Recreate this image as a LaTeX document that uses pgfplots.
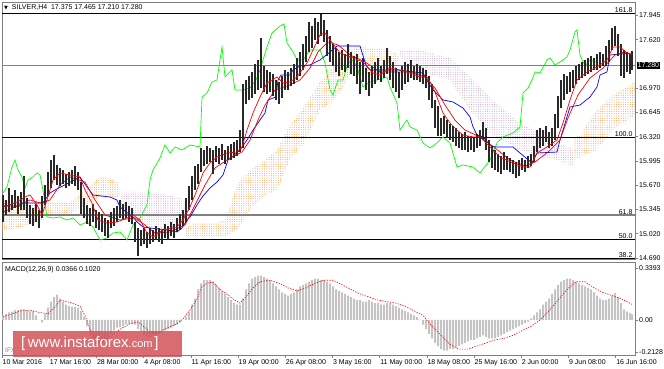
\documentclass[border=0pt]{standalone}
\usepackage{pgfplots}
\pgfplotsset{compat=1.18}
\usepackage{pgfplotstable}
\usepackage{fontspec}
\setmainfont{Liberation Sans}
\newfontfamily\dejavu{DejaVu Sans}
\usetikzlibrary{patterns.meta}
\definecolor{sandy}{RGB}{244,164,96}
\definecolor{thist}{RGB}{200,168,200}
\definecolor{limeg}{RGB}{0,255,0}
\definecolor{frm}{RGB}{128,128,128}
\definecolor{ifx}{RGB}{210,82,88}
\definecolor{silv}{RGB}{196,196,196}
\definecolor{barc}{RGB}{40,40,40}

\pgfplotstableread{
x l h
3 15.177 15.539
6 15.271 15.472
9 15.311 15.633
12 15.338 15.539
15 15.365 15.606
18 15.284 15.526
21 15.338 15.579
24 15.338 15.794
27 15.231 15.499
30 15.150 15.405
33 15.124 15.365
36 15.177 15.418
39 15.097 15.338
42 15.231 15.526
45 15.405 15.673
48 15.526 15.847
51 15.633 16.008
54 15.740 16.075
57 15.673 15.941
60 15.660 15.901
63 15.687 15.874
66 15.633 15.821
69 15.660 15.847
72 15.687 15.874
75 15.660 15.928
78 15.606 15.847
81 15.284 15.713
84 15.231 15.499
87 15.150 15.405
90 15.124 15.365
93 15.177 15.418
96 15.097 15.338
99 15.070 15.311
102 15.043 15.284
105 14.989 15.231
108 14.963 15.204
111 15.097 15.311
114 15.124 15.365
117 15.177 15.392
120 15.231 15.472
123 15.204 15.418
126 15.231 15.445
129 15.177 15.392
132 15.150 15.365
135 14.909 15.177
138 14.721 15.097
141 14.855 15.070
144 14.882 15.097
147 14.829 15.043
150 14.882 15.097
153 14.909 15.070
156 14.936 15.124
159 14.909 15.097
162 14.882 15.070
165 14.963 15.150
168 14.936 15.124
171 14.989 15.177
174 14.963 15.150
177 15.043 15.231
180 15.070 15.284
183 15.124 15.338
186 15.177 15.499
189 15.338 15.660
192 15.472 15.794
195 15.606 15.928
198 15.687 15.955
201 15.847 16.169
204 15.928 16.142
207 15.955 16.196
210 15.981 16.169
213 15.821 16.142
216 15.981 16.196
219 15.955 16.169
222 16.008 16.223
225 15.955 16.142
228 16.008 16.196
231 16.008 16.223
234 16.035 16.250
237 16.062 16.276
240 16.115 16.410
243 16.169 17.027
246 16.759 17.081
249 16.813 17.134
252 16.839 17.188
255 16.893 17.295
258 16.947 17.349
261 16.973 17.644
264 16.920 17.268
267 16.893 17.215
270 16.920 17.188
273 16.866 17.161
276 16.813 17.081
279 16.759 17.054
282 16.839 17.134
285 16.947 17.215
288 16.947 17.188
291 17.000 17.241
294 17.027 17.295
297 17.081 17.376
300 17.134 17.456
303 17.215 17.563
306 17.322 17.670
309 17.456 17.858
312 17.510 17.804
315 17.617 17.912
318 17.563 17.858
321 17.670 17.965
324 17.590 17.885
327 17.402 17.751
330 17.322 17.670
333 17.268 17.563
336 17.188 17.510
339 17.134 17.456
342 17.215 17.483
345 17.188 17.429
348 17.241 17.563
351 17.161 17.456
354 17.134 17.402
357 17.027 17.429
360 16.893 17.322
363 17.054 17.376
366 16.947 17.241
369 16.866 17.188
372 16.973 17.268
375 17.027 17.322
378 17.081 17.376
381 17.054 17.268
384 17.107 17.349
387 17.161 17.510
390 17.081 17.402
393 16.973 17.322
396 16.920 17.241
399 16.839 17.188
402 16.947 17.268
405 17.027 17.322
408 17.054 17.295
411 17.107 17.349
414 17.081 17.268
417 17.081 17.295
420 17.054 17.268
423 17.027 17.241
426 16.973 17.215
429 16.813 17.134
432 16.705 17.027
435 16.437 16.813
438 16.330 16.732
441 16.330 16.571
444 16.357 16.598
447 16.303 16.544
450 16.276 16.491
453 16.250 16.464
456 16.196 16.437
459 16.169 16.384
462 16.142 16.357
465 16.142 16.384
468 16.115 16.330
471 16.142 16.330
474 16.115 16.303
477 16.169 16.357
480 16.196 16.410
483 16.276 16.518
486 16.142 16.437
489 15.981 16.276
492 15.901 16.196
495 15.874 16.142
498 15.847 16.089
501 15.821 16.062
504 15.874 16.115
507 15.874 16.062
510 15.847 16.035
513 15.821 16.008
516 15.767 15.981
519 15.794 16.008
522 15.874 16.035
525 15.847 16.008
528 15.901 16.062
531 15.928 16.089
534 15.981 16.196
537 16.115 16.410
540 16.169 16.437
543 16.196 16.410
546 16.250 16.464
549 16.169 16.384
552 16.196 16.437
555 16.276 16.625
558 16.437 16.866
561 16.705 17.081
564 16.813 17.161
567 16.893 17.134
570 16.920 17.188
573 16.973 17.215
576 17.027 17.268
579 17.081 17.295
582 17.107 17.322
585 17.134 17.349
588 17.161 17.376
591 17.188 17.402
594 17.215 17.376
597 17.215 17.429
600 17.241 17.456
603 17.268 17.429
606 17.268 17.536
609 17.322 17.617
612 17.483 17.778
615 17.536 17.804
618 17.402 17.697
621 17.134 17.563
624 17.107 17.483
627 17.188 17.456
630 17.161 17.429
632 17.210 17.465
}\bars

\pgfplotsset{mt/.style={
  scale only axis, width=633pt, xmin=2, xmax=635,
  axis line style={frm, line width=0.7pt},
  tick style={frm, line width=0.5pt},
  tick align=outside, major tick length=3pt,
  ytick pos=right, yticklabel pos=right,
  yticklabel style={font=\fontsize{7}{8}\selectfont, anchor=west, inner sep=1pt},
}}
\tikzset{kumo/.style={pattern={Dots[distance=2.3pt,radius=0.55pt]}, pattern color=#1, draw=none}}

\begin{document}
\begin{tikzpicture}
\path[use as bounding box] (0,0) rectangle (664pt,369pt);

% ---------- main price panel ----------
\begin{axis}[mt, at={(2pt,110pt)}, anchor=south west, height=257pt,
  ymin=14.681, ymax=18.126, xtick=\empty,
  ytick={14.690,15.020,15.345,15.670,15.995,16.320,16.645,16.970,17.620,17.945},
  yticklabels={14.690,15.020,15.345,15.670,15.995,16.320,16.645,16.970,17.620,17.945}]

% Ichimoku cloud (Senkou span A / B), one polygon per colour segment
\addplot[kumo=sandy] coordinates {
(2,15.472) (20,15.432) (40,15.472) (50,15.432) (70,15.445) (85,15.606) (100,15.780) (112,15.760) (118,15.700) (119.6,15.563)
(118,15.500) (100,15.512) (85,15.405) (70,15.284) (50,15.258) (40,15.177) (20,15.097) (2,15.070)} -- cycle;
\addplot[kumo=thist] coordinates {
(119.6,15.563) (120,15.580) (140,15.579) (160,15.566) (185,15.472) (185.5,15.100)
(170,15.030) (150,15.070) (130,15.244) (122,15.350)} -- cycle;
\addplot[kumo=sandy] coordinates {
(185.5,15.100) (195,15.164) (215,15.164) (225,15.200) (237,15.673) (250,15.874) (265,16.008) (277,16.142)
(290,16.477) (303,16.705) (320,17.054) (335,17.282) (350,17.550) (370,17.510) (390,17.483) (399.5,17.405)
(398,17.215) (370,17.148) (350,17.148) (335,16.813) (320,16.678) (303,16.209) (290,16.008) (277,15.606)
(265,15.539) (250,15.338) (237,15.070) (225,14.989) (186,14.989)} -- cycle;
\addplot[kumo=thist] coordinates {
(399.5,17.405) (400,17.470) (420,17.483) (450,17.376) (470,17.121) (490,16.853) (520,16.504) (557,16.236) (572,16.169) (573.3,16.060)
(573,15.950) (570,15.941) (557,16.008) (520,16.142) (490,16.370) (470,16.678) (450,17.081) (420,17.188) (410,17.250) (400,17.400)} -- cycle;
\addplot[kumo=sandy] coordinates {
(573.3,16.060) (574,16.300) (580,16.343) (597,16.678) (613,16.880) (635,17.054)
(635,16.611) (613,16.410) (597,16.142) (574,16.008)} -- cycle;

% Fibonacci and price lines
\addplot[black, line width=0.8pt] coordinates {(2,17.979) (635,17.979)};
\addplot[black, line width=0.8pt] coordinates {(2,16.317) (635,16.317)};
\addplot[frm, line width=1.1pt] coordinates {(2,15.271) (635,15.271)};
\addplot[black, line width=0.8pt] coordinates {(2,14.949) (635,14.949)};
\addplot[black, line width=0.8pt] coordinates {(2,14.695) (635,14.695)};
\addplot[frm, line width=0.6pt] coordinates {(2,17.280) (635,17.280)};

% Chikou span (green)
\addplot[limeg, line width=0.7pt] coordinates {
(3,15.566) (7,15.646) (12,15.914) (15,16.008) (18,15.874) (22,15.780) (25,15.633) (28,15.740)
(33,15.780) (37,15.834) (40,15.807) (43,15.606) (47,15.244) (53,15.231) (60,15.244) (67,15.204)
(73,15.231) (80,15.137) (87,15.177) (93,15.110) (100,14.936) (107,14.963) (113,15.030) (120,15.043)
(127,14.936) (133,15.137) (140,15.231) (147,15.405) (150,15.740) (153,15.874) (160,16.035) (165,16.209)
(170,16.102) (175,16.183) (182,16.142) (190,16.209) (200,16.183) (202,16.853) (207,16.906) (212,17.054)
(217,17.081) (222,17.523) (225,17.121) (232,17.215) (235,16.947) (243,16.947) (250,16.973) (256,17.081)
(260,17.215) (267,17.523) (272,17.711) (280,17.804) (284,17.831) (287,17.577) (293,17.456) (297,17.349)
(303,17.349) (310,17.483) (320,17.483) (325,17.308) (330,16.947) (333,16.880) (338,17.081) (343,17.081)
(348,17.308) (353,17.349) (357,17.255) (363,16.987) (370,17.054) (377,17.081) (387,17.121) (390,16.987)
(397,16.772) (400,16.410) (407,16.544) (410,16.451) (417,16.410) (423,16.236) (430,16.169) (437,16.236)
(443,16.317) (450,16.236) (457,15.914) (463,15.941) (473,15.914) (480,15.834) (490,16.008) (497,16.236)
(503,16.317) (513,16.370) (520,16.451) (523,16.906) (528,16.973) (532,17.081) (535,17.188) (540,17.174)
(547,17.349) (550,17.376) (555,17.282) (560,17.322) (567,17.389) (570,17.483) (575,17.724) (577,17.751)
(580,17.416) (585,17.268) (590,17.349) (596,17.322)};

% Kijun-sen (blue)
\addplot[blue, line width=0.7pt] coordinates {
(2,15.392) (20,15.392) (20,15.432) (43,15.432) (45,15.472) (50,15.566) (55,15.606) (80,15.780)
(82,15.740) (93,15.539) (110,15.512) (117,15.472) (120,15.378) (133,15.244) (137,15.177) (143,15.110)
(150,15.097) (167,15.070) (177,15.043) (182,15.097) (187,15.204) (190,15.244) (197,15.405) (203,15.526)
(210,15.633) (217,15.713) (223,15.807) (228,16.008) (232,16.048) (240,16.142) (247,16.276) (253,16.410)
(260,16.544) (265,16.638) (268,16.813) (276,16.853) (278,17.081) (281,17.148) (290,17.148) (293,17.215)
(300,17.268) (310,17.282) (320,17.349) (330,17.456) (337,17.536) (360,17.536) (365,17.322) (367,17.255)
(370,17.215) (397,17.215) (423,17.174) (428,17.054) (433,16.947) (443,16.813) (453,16.786) (463,16.705)
(470,16.585) (473,16.451) (477,16.343) (483,16.317) (490,16.209) (495,16.183) (513,16.183) (520,16.102)
(532,15.968) (537,16.102) (557,16.115) (560,16.276) (570,16.719) (580,16.745) (590,16.853) (597,16.987)
(600,17.148) (607,17.188) (610,17.416) (633,17.443)};

% slow red
\addplot[red, line width=0.7pt] coordinates {
(3,15.311) (15,15.378) (30,15.472) (40,15.432) (50,15.472) (60,15.673) (70,15.780) (85,15.713)
(95,15.472) (105,15.271) (120,15.204) (135,15.231) (145,15.137) (155,15.030) (170,15.043) (185,15.137)
(195,15.405) (205,15.673) (215,15.901) (230,16.035) (242,16.115) (250,16.276) (258,16.544) (265,16.745)
(275,16.947) (290,17.014) (300,17.081) (310,17.241) (318,17.456) (328,17.590) (338,17.550) (350,17.416)
(365,17.322) (380,17.188) (395,17.188) (410,17.188) (425,17.121) (435,16.973) (445,16.745) (455,16.544)
(465,16.410) (480,16.317) (495,16.169) (510,16.008) (525,15.928) (535,15.981) (548,16.115) (560,16.276)
(568,16.571) (578,16.880) (590,17.107) (603,17.241) (615,17.416) (625,17.456) (632,17.416)};

% candles (high-low bars)
\addplot[draw=none, forget plot, error bars/.cd, y dir=plus, y explicit, error mark=none,
  error bar style={draw=barc, line width=1.25pt}]
  table[x=x, y=l, y error plus expr=\thisrow{h}-\thisrow{l}] {\bars};

% fast red
\addplot[red, line width=0.7pt] coordinates {
(3,15.378) (15,15.432) (25,15.512) (30,15.539) (37,15.405) (42,15.271) (47,15.472) (53,15.740)
(60,15.834) (70,15.807) (80,15.780) (85,15.606) (92,15.432) (98,15.204) (107,15.164) (117,15.177)
(127,15.231) (133,15.271) (140,15.204) (147,15.030) (153,14.976) (163,15.070) (177,15.110) (183,15.204)
(190,15.378) (197,15.606) (203,15.834) (210,15.968) (217,16.048) (227,16.102) (237,16.115) (242,16.183)
(247,16.410) (253,16.638) (260,16.853) (267,17.040) (277,17.121) (283,17.040) (290,17.054) (297,17.121)
(307,17.308) (313,17.483) (320,17.684) (325,17.711) (330,17.617) (340,17.443) (353,17.376) (363,17.322)
(373,17.174) (380,17.148) (390,17.241) (400,17.215) (410,17.174) (420,17.121) (427,17.121) (433,16.987)
(438,16.813) (443,16.638) (450,16.504) (457,16.410) (463,16.343) (473,16.317) (480,16.317) (490,16.183)
(500,16.048) (513,15.968) (523,15.914) (530,15.914) (537,16.102) (547,16.183) (557,16.276) (563,16.504)
(570,16.813) (577,17.081) (587,17.188) (597,17.255) (607,17.349) (613,17.523) (620,17.523) (627,17.443)
(632,17.416)};
\end{axis}

% ---------- MACD panel ----------
\begin{axis}[mt, at={(2pt,14pt)}, anchor=south west, height=93pt,
  ymin=-0.2288, ymax=0.379,
  ytick={-0.2128,0,0.3393}, yticklabels={-0.2128,0.00,0.3393},
  xtick={2,49.2,96.4,143.6,190.8,238,285.2,332.4,379.6,426.8,474,521.2,568.4,615.6},
  xticklabels={10 Mar 2016,17 Mar 16:00,28 Mar 00:00,4 Apr 08:00,11 Apr 16:00,19 Apr 00:00,26 Apr 08:00,3 May 16:00,11 May 00:00,18 May 08:00,25 May 16:00,2 Jun 00:00,9 Jun 08:00,16 Jun 16:00},
  xtick pos=bottom,
  xticklabel style={font=\fontsize{7}{8}\selectfont, anchor=north west, inner sep=0pt, xshift=0.5pt, yshift=-1.5pt}]
\addplot[ybar, bar width=2pt, fill=silv, draw=none] coordinates {
(3,0.03)(6,0.04)(9,0.05)(12,0.055)(15,0.065)(18,0.065)(21,0.07)(24,0.07)(27,0.065)(30,0.06)(33,0.06)(36,0.03)(39,0.0)(42,-0.015)(45,0.04)(48,0.08)(51,0.12)(54,0.15)(57,0.165)(60,0.14)(63,0.12)(66,0.10)(69,0.09)(72,0.085)(75,0.085)(78,0.08)(81,0.06)(84,0.02)(87,-0.04)(90,-0.10)(93,-0.14)(96,-0.16)(99,-0.16)(102,-0.15)(105,-0.13)(108,-0.11)(111,-0.09)(114,-0.07)(117,-0.05)(120,-0.045)(123,-0.04)(126,-0.03)(129,-0.025)(132,-0.025)(135,-0.03)(138,-0.06)(141,-0.08)(144,-0.10)(147,-0.11)(150,-0.11)(153,-0.10)(156,-0.10)(159,-0.09)(162,-0.08)(165,-0.07)(168,-0.06)(171,-0.05)(174,-0.04)(177,-0.03)(180,-0.015)(183,0.0)(186,0.02)(189,0.05)(192,0.10)(195,0.14)(198,0.20)(201,0.24)(204,0.26)(207,0.26)(210,0.26)(213,0.25)(216,0.23)(219,0.21)(222,0.19)(225,0.17)(228,0.15)(231,0.13)(234,0.11)(237,0.10)(240,0.10)(243,0.14)(246,0.20)(249,0.24)(252,0.27)(255,0.28)(258,0.29)(261,0.29)(264,0.28)(267,0.27)(270,0.26)(273,0.24)(276,0.22)(279,0.20)(282,0.18)(285,0.17)(288,0.16)(291,0.17)(294,0.18)(297,0.20)(300,0.22)(303,0.23)(306,0.24)(309,0.25)(312,0.26)(315,0.27)(318,0.27)(321,0.26)(324,0.26)(327,0.25)(330,0.24)(333,0.22)(336,0.20)(339,0.19)(342,0.18)(345,0.17)(348,0.16)(351,0.15)(354,0.14)(357,0.13)(360,0.13)(363,0.12)(366,0.12)(369,0.13)(372,0.12)(375,0.11)(378,0.11)(381,0.10)(384,0.10)(387,0.11)(390,0.11)(393,0.10)(396,0.09)(399,0.08)(402,0.07)(405,0.06)(408,0.05)(411,0.04)(414,0.03)(417,0.02)(420,0.0)(423,-0.03)(426,-0.06)(429,-0.09)(432,-0.12)(435,-0.15)(438,-0.17)(441,-0.19)(444,-0.20)(447,-0.20)(450,-0.19)(453,-0.19)(456,-0.18)(459,-0.17)(462,-0.16)(465,-0.15)(468,-0.14)(471,-0.13)(474,-0.13)(477,-0.12)(480,-0.11)(483,-0.10)(486,-0.11)(489,-0.12)(492,-0.12)(495,-0.12)(498,-0.11)(501,-0.10)(504,-0.09)(507,-0.08)(510,-0.07)(513,-0.06)(516,-0.05)(519,-0.04)(522,-0.03)(525,-0.02)(528,-0.01)(531,0.01)(534,0.03)(537,0.05)(540,0.07)(543,0.10)(546,0.12)(549,0.14)(552,0.17)(555,0.20)(558,0.23)(561,0.25)(564,0.26)(567,0.27)(570,0.27)(573,0.26)(576,0.25)(579,0.24)(582,0.23)(585,0.22)(588,0.21)(591,0.20)(594,0.18)(597,0.16)(600,0.14)(603,0.13)(606,0.13)(609,0.14)(612,0.16)(615,0.175)(618,0.15)(621,0.11)(624,0.07)(627,0.055)(630,0.045)(632,0.037)};
\addplot[red, line width=0.6pt, dash pattern=on 1.3pt off 1.3pt] coordinates {
(3,0.02)(12,0.04)(21,0.06)(30,0.065)(39,0.05)(48,0.04)(57,0.10)(60,0.13)(70,0.115)(80,0.09)(85,0.03)(90,-0.06)(95,-0.12)(102,-0.14)(110,-0.11)(120,-0.06)(130,-0.025)(138,-0.012)(145,-0.05)(150,-0.078)(157,-0.09)(163,-0.065)(170,-0.045)(177,-0.025)(183,0.007)(190,0.065)(197,0.137)(202,0.216)(207,0.24)(213,0.248)(220,0.20)(227,0.17)(233,0.137)(240,0.11)(247,0.16)(253,0.21)(260,0.25)(270,0.26)(279,0.24)(288,0.21)(297,0.19)(306,0.21)(315,0.24)(324,0.26)(333,0.26)(342,0.23)(351,0.20)(360,0.17)(369,0.15)(378,0.13)(387,0.12)(396,0.11)(405,0.09)(414,0.06)(423,0.03)(432,-0.04)(441,-0.10)(450,-0.16)(459,-0.19)(468,-0.19)(477,-0.17)(486,-0.15)(495,-0.13)(504,-0.12)(513,-0.10)(522,-0.07)(531,-0.04)(540,0.0)(549,0.06)(558,0.13)(567,0.20)(576,0.25)(585,0.25)(594,0.21)(603,0.18)(612,0.16)(621,0.14)(632,0.102)};
\end{axis}

% ---------- texts ----------
\node[anchor=west, inner sep=0pt, font=\fontsize{7}{8}\selectfont] at (4pt,361pt)
  {{\dejavu\fontsize{5}{6}\selectfont ▼}\ \ SILVER,H4\ \ 17.375 17.465 17.210 17.280};
\node[anchor=west, inner sep=0pt, font=\fontsize{7}{8}\selectfont] at (5pt,99pt)
  {MACD(12,26,9) 0.0366 0.1020};
\foreach \yy/\tt in {356.3/161.8, 232.3/100.0, 154.3/61.8, 130.3/50.0, 110.6/38.2}
  \node[anchor=south east, inner sep=0.4pt, font=\fontsize{7}{8}\selectfont] at (633pt,\yy pt) {\tt};
\node[anchor=west, fill=black, text=white, inner sep=1pt, font=\fontsize{7}{8}\selectfont] at (636.5pt,303.9pt) {17.280};
% watermark
\node[anchor=west, inner sep=0pt, font=\fontsize{6.5}{7}\selectfont, text=gray] at (5pt,19pt) {IFX};
\fill[ifx, opacity=0.85] (13pt,12pt) rectangle (182pt,38pt);
\node[anchor=base west, inner sep=0pt, text=white] at (21pt,21pt)
  {{\fontsize{15}{15}\selectfont [\,www.instaforex}{\fontsize{11}{11}\selectfont .com\,}{\fontsize{15}{15}\selectfont ]}};
\end{tikzpicture}
\end{document}
